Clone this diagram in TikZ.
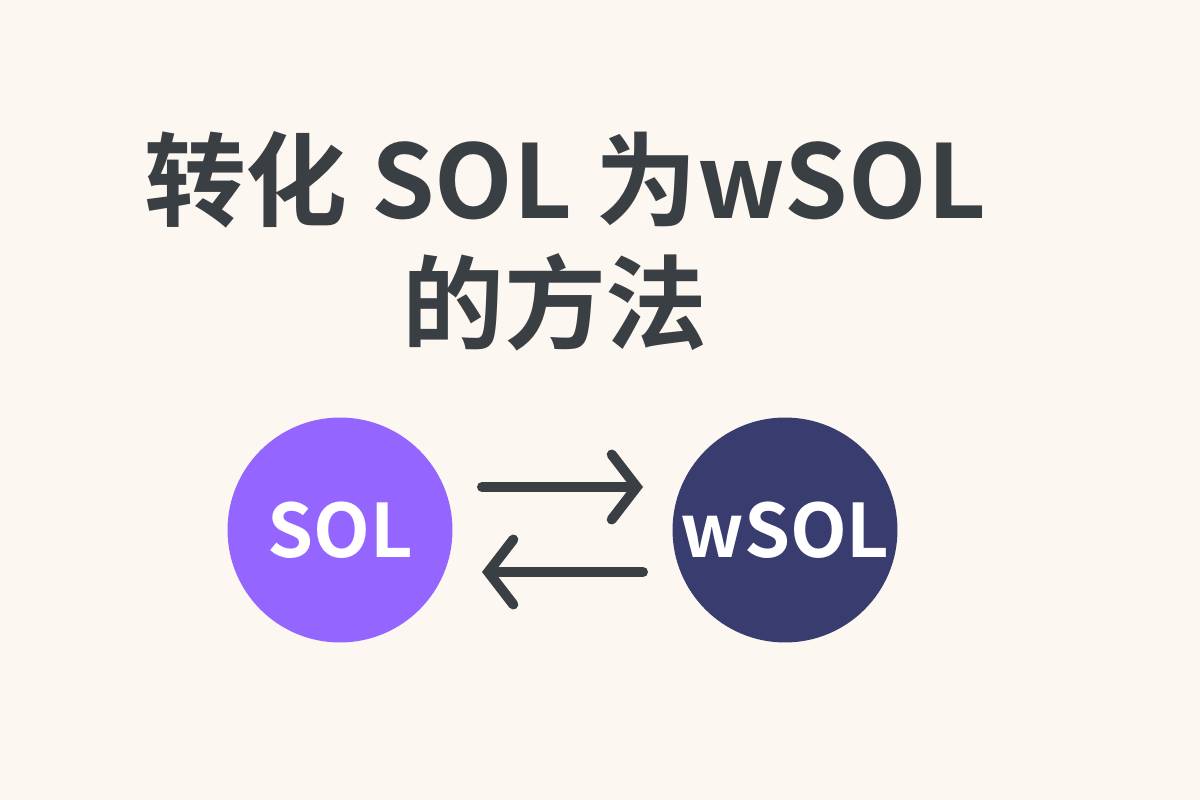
\documentclass[tikz,border=0pt]{standalone}
\usepackage{fontspec}
\setmainfont{Noto Sans CJK SC}
\newfontfamily\cjkbold{Noto Sans CJK SC Bold}
\usetikzlibrary{positioning,arrows.meta}
\definecolor{bgcream}{HTML}{FCF7F0}
\definecolor{inkgray}{HTML}{3A3F44}
\definecolor{solpurple}{HTML}{9466FF}
\definecolor{wsolnavy}{HTML}{383C6E}
\begin{document}
\begin{tikzpicture}[x=0.02cm,y=-0.02cm,
    coin/.style={circle,minimum size=4.5cm,inner sep=0pt,text=white,
      font=\cjkbold\fontsize{42}{42}\selectfont},
    swap/.style={line width=0.2cm,draw=inkgray,line cap=round,
      -{Straight Barb[length=0.5cm,width=1.3cm,line cap=round]}}]

  \fill [bgcream] (0,0) rectangle (1200,800);

  \node (title1) [text=inkgray,font=\cjkbold\fontsize{58}{58}\selectfont]
        at (565,180) {转化 SOL 为wSOL};
  \node (title2) [text=inkgray,font=\cjkbold\fontsize{58}{58}\selectfont]
        at (555,302) {的方法};

  \node (sol) [coin,fill=solpurple] at (340,530) {SOL};
  \node (wsol) [coin,fill=wsolnavy] at (785,530) {wSOL};

  \coordinate (a1) at (482,487);
  \coordinate (a2) at (643,487);
  \coordinate (b1) at (643,572);
  \coordinate (b2) at (482,572);
  \draw [swap] (a1) -- (a2);
  \draw [swap] (b1) -- (b2);

\end{tikzpicture}
\end{document}
